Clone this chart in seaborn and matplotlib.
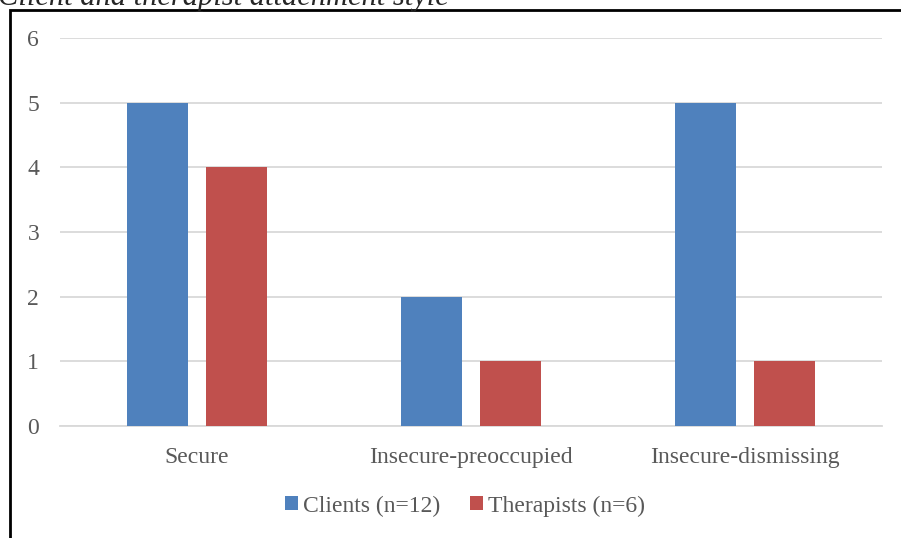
import matplotlib
matplotlib.use("Agg")
import matplotlib.pyplot as plt
import seaborn as sns
import pandas as pd
from matplotlib.patches import Rectangle

categories = ["Secure", "Insecure-preoccupied", "Insecure-dismissing"]
series = ["Clients (n=12)", "Therapists (n=6)"]
clients = [5, 2, 5]
therapists = [4, 1, 1]
colors = ["#4F81BD", "#C0504D"]

df = pd.DataFrame({
    "style": categories * 2,
    "group": [series[0]] * 3 + [series[1]] * 3,
    "count": clients + therapists,
})

sns.set_style("white")
plt.rcParams["font.family"] = ["Liberation Serif", "DejaVu Serif"]

fig = plt.figure(figsize=(9.01, 5.38), dpi=100)
ax = fig.add_axes([60 / 901, 1 - 426 / 538, 822 / 901, 388 / 538])

sns.barplot(data=df, x="style", y="count", hue="group", order=categories,
            hue_order=series, palette=colors, width=0.57, gap=0.22,
            saturation=1, linewidth=0, ax=ax, zorder=3)

ax.set_ylim(0, 6)
ax.set_xlim(-0.5, 2.5)
ax.set_yticks(range(0, 7))
ax.yaxis.grid(True, color="#D9D9D9", linewidth=1.3, zorder=0)
ax.set_axisbelow(True)
for s in ["top", "right", "left"]:
    ax.spines[s].set_visible(False)
ax.spines["bottom"].set_color("#D9D9D9")
ax.spines["bottom"].set_linewidth(1.3)
ax.set_xlabel("")
ax.set_ylabel("")
ax.tick_params(axis="x", length=0, pad=15, labelsize=17, labelcolor="#595959")
ax.tick_params(axis="y", length=0, pad=15, labelsize=17, labelcolor="#595959")

ax.legend(loc="center", bbox_to_anchor=(465 / 901, 1 - 506 / 538),
          bbox_transform=fig.transFigure, ncol=2, frameon=False,
          fontsize=17, handlelength=0.55, handleheight=0.55,
          handletextpad=0.2, columnspacing=1.25, labelcolor="#595959")

# frame and clipped title like the source page
fig.add_artist(Rectangle((10 / 901, -0.1), 2, 1 - 10 / 538 + 0.1,
                         transform=fig.transFigure, fill=False,
                         edgecolor="black", linewidth=2, clip_on=False))
fig.text(-2 / 901, 1 - 5 / 538, "Client and therapist attachment style",
         fontsize=22, fontstyle="italic", va="baseline", ha="left")

fig.savefig("out.png", dpi=100)
